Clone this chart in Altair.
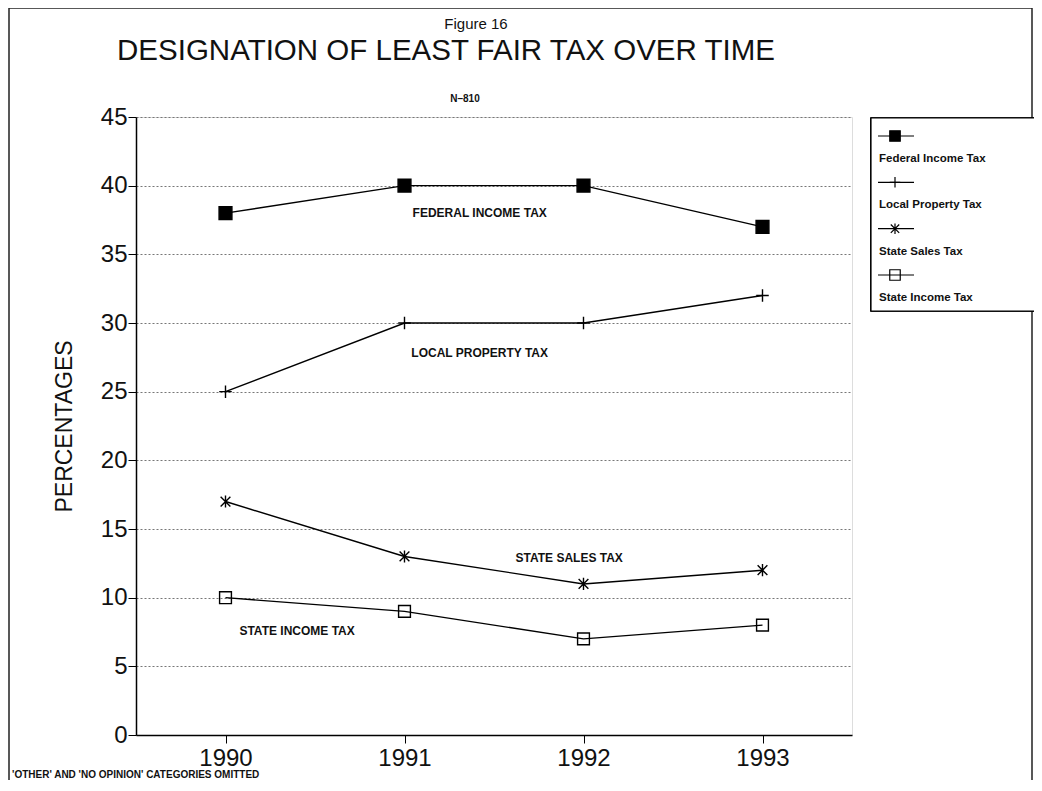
import altair as alt
import pandas as pd

# ---- data ----
years = [1990, 1991, 1992, 1993]
series = ["Federal Income Tax", "Local Property Tax", "State Sales Tax", "State Income Tax"]
federal_income = [38, 40, 40, 37]
local_property = [25, 30, 30, 32]
state_sales = [17, 13, 11, 12]
state_income = [10, 9, 7, 8]

label_text = ["FEDERAL INCOME TAX", "LOCAL PROPERTY TAX", "STATE SALES TAX", "STATE INCOME TAX"]
label_year = [1991.42, 1991.42, 1991.92, 1990.40]
label_value = [38.0, 27.8, 12.9, 7.6]

y_ticks = [0, 5, 10, 15, 20, 25, 30, 35, 40, 45]

rows = []
for name, vals in zip(series, [federal_income, local_property, state_sales, state_income]):
    for yr, v in zip(years, vals):
        rows.append({"series": name, "year": yr, "pct": v})
df = pd.DataFrame(rows)
labels_df = pd.DataFrame({"text": label_text, "year": label_year, "pct": label_value})
legend_df = pd.DataFrame({"series": series, "order": list(range(len(series)))})

FONT = "Liberation Sans"
W, H = 716, 618

shape_paths = [
    "square",
    "M-1,0H1M0,-1V1",
    "M-0.8,-0.8L0.8,0.8M-0.8,0.8L0.8,-0.8M0,-1V1",
    "square",
]
shape_scale = alt.Scale(domain=series, range=shape_paths)
fill_scale = alt.Scale(domain=series, range=["black", "black", "black", "transparent"])
size_scale = alt.Scale(domain=series, range=[165, 140, 120, 160])

xs = alt.X("year:Q", scale=alt.Scale(domain=[1989.5, 1993.5], nice=False),
           axis=alt.Axis(values=years, format="d", title=None, grid=False,
                         labelFontSize=24, labelFont=FONT, labelColor="#111",
                         tickSize=8, tickColor="black", labelPadding=3,
                         domainColor="black", domainWidth=1.5))
ys = alt.Y("pct:Q", scale=alt.Scale(domain=[0, 45], nice=False),
           axis=alt.Axis(values=y_ticks, title="PERCENTAGES", titleFontSize=23,
                         titleFont=FONT, titleFontWeight="normal", titleColor="#111",
                         titlePadding=24, labelFontSize=24, labelFont=FONT,
                         labelColor="#111", tickSize=8, tickColor="black",
                         labelPadding=1, grid=True, gridColor="#777",
                         gridDash=[2, 2], gridWidth=1, domainColor="black",
                         domainWidth=1.5))

base = alt.Chart(df)

lines = base.mark_line(color="black", strokeWidth=1.4).encode(
    x=xs, y=ys, detail="series:N")

points = base.mark_point(filled=True, stroke="black", strokeWidth=1.4, opacity=1).encode(
    x="year:Q", y="pct:Q",
    shape=alt.Shape("series:N", scale=shape_scale, legend=None),
    fill=alt.Fill("series:N", scale=fill_scale, legend=None),
    size=alt.Size("series:N", scale=size_scale, legend=None),
)

annot = alt.Chart(labels_df).mark_text(font=FONT, fontSize=12, fontWeight="bold",
                                       color="#111").encode(
    x="year:Q", y="pct:Q", text="text:N")

main = alt.layer(lines, points, annot)

# ---- custom legend (symbol above label) ----
leg_y = alt.Y("order:Q", scale=alt.Scale(domain=[0, 3], range=[19, 158], nice=False, zero=False),
              axis=None)
legend_box = alt.Chart(legend_df).mark_rect(fill="white", stroke="black", strokeWidth=1.2).encode(
    x=alt.value(735), x2=alt.value(901), y=alt.value(1), y2=alt.value(194))
legend_line = alt.Chart(legend_df).mark_rule(color="black", strokeWidth=1.2).encode(
    x=alt.value(742), x2=alt.value(778), y=leg_y)
legend_pts = alt.Chart(legend_df).mark_point(filled=True, stroke="black", strokeWidth=1.2,
                                               opacity=1).encode(
    x=alt.value(759), y=leg_y,
    shape=alt.Shape("series:N", scale=shape_scale, legend=None),
    fill=alt.Fill("series:N", scale=fill_scale, legend=None),
    size=alt.value(110))
legend_txt = alt.Chart(legend_df).mark_text(align="left", baseline="middle", dy=23,
                                             font=FONT, fontSize=11.5, fontWeight="bold",
                                             color="#111").encode(
    x=alt.value(743), y=leg_y, text="series:N")
legend = alt.layer(legend_box, legend_line, legend_pts, legend_txt)

# ---- header / frame texts ----
hdr = pd.DataFrame({"t": ["Figure 16"]})
fig_lbl = alt.Chart(hdr).mark_text(font=FONT, fontSize=15, color="#111",
                                   baseline="alphabetic").encode(
    x=alt.value(340), y=alt.value(-88), text=alt.value("Figure 16"))
main_title = alt.Chart(hdr).mark_text(font=FONT, fontSize=29.5, color="#111",
                                      baseline="alphabetic").encode(
    x=alt.value(310), y=alt.value(-57), text=alt.value("DESIGNATION OF LEAST FAIR TAX OVER TIME"))
n_lbl = alt.Chart(hdr).mark_text(font=FONT, fontSize=10, fontWeight="bold", color="#111",
                                 baseline="alphabetic").encode(
    x=alt.value(329), y=alt.value(-15), text=alt.value("N\u2013810"))
foot = alt.Chart(hdr).mark_text(font=FONT, fontSize=10, fontWeight="bold", color="#111",
                                align="left", baseline="alphabetic").encode(
    x=alt.value(-124), y=alt.value(661), text=alt.value("'OTHER' AND 'NO OPINION' CATEGORIES OMITTED"))
frame = alt.Chart(hdr).mark_rect(fill="transparent", stroke="#222", strokeWidth=1.5).encode(
    x=alt.value(-127), x2=alt.value(896), y=alt.value(-109), y2=alt.value(700))
deco = alt.layer(frame, fig_lbl, main_title, n_lbl, foot)

chart = alt.layer(deco, main, legend).resolve_scale(y="independent").properties(
    width=W, height=H,
    autosize=alt.AutoSizeParams(type="none"),
    padding={"left": 128, "top": 109, "right": 182, "bottom": 45},
).configure_view(stroke="black", strokeWidth=1.5).configure(background="white")

chart.save("out.html", embed_options={"renderer": "svg", "actions": False})
